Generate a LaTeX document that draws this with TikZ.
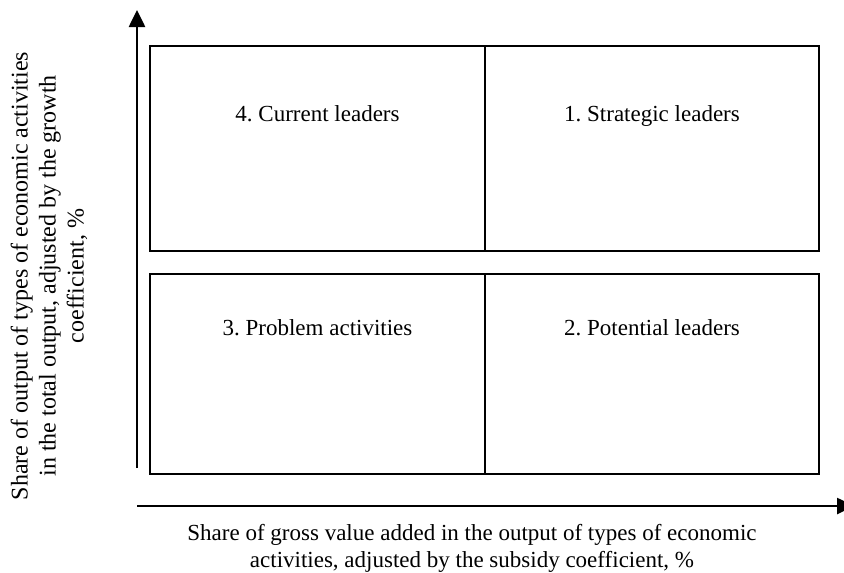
\documentclass[tikz,border=0pt]{standalone}
\usepackage{fontspec}
\setmainfont{Liberation Serif}
\usetikzlibrary{calc,arrows.meta}
\frenchspacing

\begin{document}
\begin{tikzpicture}[x=1pt, y=-1pt]
  \tikzstyle{myline}=[line width=1.5pt, line cap=rect, line join=miter];
  \tikzstyle{mybox}=[draw, myline, rectangle, inner sep=0pt, outer sep=0pt,
    anchor=north west];
  \tikzstyle{mytext}=[text=black, align=center,
    font=\fontsize{23}{27}\selectfont];
  \tikzstyle{myaxis}=[line width=2.6pt, -{Triangle[length=17pt, width=16pt]}];
  %
  \useasboundingbox (0, 0) rectangle (844, 573);
  %
  % upper row
  \node[mybox, minimum width=335pt, minimum height=205pt] (cl) at (150, 46) {};
  \node[mybox, minimum width=334pt, minimum height=205pt] (sl) at (cl.north east) {};
  %
  \node[mytext, anchor=base] (cltext) at ($(cl.north) + (0, 75)$) {4. Current leaders};
  \node[mytext, anchor=base] (sltext) at ($(sl.north) + (0, 75)$) {1. Strategic leaders};
  %
  % lower row
  \node[mybox, minimum width=335pt, minimum height=200pt] (pa) at (150, 274) {};
  \node[mybox, minimum width=334pt, minimum height=200pt] (pl) at (pa.north east) {};
  %
  \node[mytext, anchor=base] (patext) at ($(pa.north) + (0, 61)$) {3. Problem activities};
  \node[mytext, anchor=base] (pltext) at ($(pl.north) + (0, 61)$) {2. Potential leaders};
  %
  % axes
  \coordinate (yfrom) at (137, 468);
  \coordinate (yto) at (137, 10);
  \coordinate (xfrom) at (137, 506);
  \coordinate (xto) at (854, 506);
  \draw[myaxis] (yfrom) -- (yto);
  \draw[myaxis] (xfrom) -- (xto);
  %
  % axis labels
  \node[mytext, rotate=90, font=\fontsize{24}{28}\selectfont] (ylabel) at (49, 276) {
    Share of output of types of economic activities\\
    in the total output, adjusted by the growth\\
    coefficient, \%};
  %
  \node[mytext] (xlabel) at (472, 548) {
    Share of gross value added in the output of types of economic\\
    activities, adjusted by the subsidy coefficient, \%};
\end{tikzpicture}
\end{document}
